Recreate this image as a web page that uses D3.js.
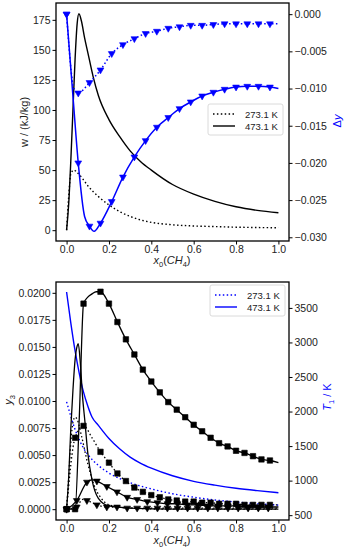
<!DOCTYPE html>
<html>
<head>
<meta charset="utf-8">
<script src="https://cdn.jsdelivr.net/npm/d3@7"></script>
<style>
body { margin: 0; background: #fff; }
svg text { font-family: "Liberation Sans", Arial, sans-serif; }
</style>
</head>
<body>
<div id="chart"></div>
<script>
// ---- data ----
const xTicks = [0, 0.2, 0.4, 0.6, 0.8, 1.0];
const wTicks = [0, 25, 50, 75, 100, 125, 150, 175];
const dyTicks = [0, -0.005, -0.010, -0.015, -0.020, -0.025, -0.030];
const y3Ticks = [0, 0.0025, 0.005, 0.0075, 0.01, 0.0125, 0.015, 0.0175, 0.02];
const tTicks = [500, 1000, 1500, 2000, 2500, 3000, 3500];
const legendLabels = ['273.1 K', '473.1 K'];

// top panel: w (left axis), black
const w273 = [[0,0],[0.01,28],[0.02,47],[0.035,50],[0.05,48],[0.075,43],[0.1,37],[0.15,28],[0.2,21],
  [0.25,15.5],[0.3,11.5],[0.35,8.5],[0.4,6.5],[0.5,4.5],[0.6,3.5],[0.7,3],[0.8,2.5],[0.9,2.2],[1.0,2]];
const w473 = [[0,0],[0.01,22],[0.02,58],[0.03,100],[0.04,142],[0.05,172],[0.058,180],[0.07,174],[0.085,160],
  [0.1,148],[0.125,128],[0.15,112],[0.2,92],[0.25,78],[0.3,66],[0.35,57],[0.4,50],[0.5,38],[0.6,30],
  [0.7,24],[0.8,19.5],[0.9,16.5],[1.0,14.5]];

// top panel: delta y (right axis), blue, triangle marks + extra bends of the line
const dy273 = [[0,0],[0.055,-0.0106],[0.108,-0.0092],[0.16,-0.0075],[0.213,-0.0053],[0.266,-0.0041],
  [0.32,-0.0033],[0.373,-0.0026],[0.426,-0.0023],[0.48,-0.0019],[0.533,-0.0017],[0.586,-0.0015],
  [0.64,-0.0015],[0.693,-0.0014],[0.746,-0.0013],[0.8,-0.0013],[0.853,-0.0013],[0.906,-0.0013],[0.96,-0.0013]];
const dy273Bends = [[0.035,-0.0100],[1.0,-0.0013]];
const dy473 = [[0,0],[0.055,-0.0200],[0.108,-0.0285],[0.16,-0.0281],[0.213,-0.0252],[0.266,-0.0219],
  [0.32,-0.0192],[0.373,-0.0170],[0.426,-0.0152],[0.48,-0.0139],[0.533,-0.0127],[0.586,-0.0118],
  [0.64,-0.0110],[0.693,-0.0105],[0.746,-0.0101],[0.8,-0.0098],[0.853,-0.0097],[0.906,-0.0097],[0.96,-0.0098]];
const dy473Bends = [[0.03,-0.0110],[0.085,-0.0272],[0.13,-0.0292],[1.0,-0.0100]];

// bottom panel: y3 (left axis), black
const sqSolid = [[0,0],[0.04,0],[0.08,0.0190],[0.16,0.0201],[0.2,0.0190],[0.24,0.0173],[0.28,0.0157],
  [0.32,0.0143],[0.36,0.0129],[0.4,0.0118],[0.44,0.0108],[0.48,0.0099],[0.52,0.0092],[0.56,0.0085],
  [0.6,0.0078],[0.64,0.0072],[0.68,0.0066],[0.72,0.0061],[0.76,0.0058],[0.8,0.0054],[0.84,0.0052],
  [0.88,0.0049],[0.92,0.0046],[0.96,0.0045]];
const sqSolidBends = [[0.06,0.0085],[0.1,0.0196],[0.12,0.0199],[0.14,0.0201],[1.0,0.0043]];
const sqDot = [[0,0],[0.04,0.0066],[0.08,0.0077],[0.16,0.0053],[0.2,0.0043],[0.24,0.0033],[0.28,0.0026],
  [0.32,0.0020],[0.36,0.0016],[0.4,0.0013],[0.44,0.0011],[0.48,0.0009],[0.52,0.0008],[0.56,0.0007],
  [0.6,0.0007],[0.64,0.0006],[0.68,0.0006],[0.72,0.0005],[0.76,0.0005],[0.8,0.0005],[0.84,0.0004],
  [0.88,0.0004],[0.92,0.0004],[0.96,0.0004]];
const sqDotBends = [[0.12,0.0066],[1.0,0.0004]];
const triSolid = [[0,0],[0.048,0.0008],[0.096,0.0025],[0.143,0.0026],[0.19,0.0021],[0.238,0.0016],
  [0.286,0.0011],[0.333,0.0009],[0.381,0.0007],[0.429,0.0006],[0.476,0.0005],[0.524,0.0005],[0.571,0.0004],
  [0.619,0.0004],[0.667,0.0003],[0.714,0.0003],[0.762,0.0003],[0.81,0.0003],[0.857,0.0002],[0.905,0.0002],[0.952,0.0002]];
const triSolidBends = [[0.12,0.0027],[1.0,0.0002]];
const triDot = [[0,0],[0.048,0.0002],[0.096,0.0008],[0.143,0.0004],[0.19,0.0002],[0.238,0.0002],
  [0.286,0.0001],[0.333,0.0001],[0.381,0.0001],[0.429,0.0001],[0.476,0.0001],[0.524,0.0001],[0.571,0.0001],
  [0.619,0.0001],[0.667,0.0001],[0.714,0.0001],[0.762,0.0001],[0.81,0.0001],[0.857,0.0001],[0.905,0.0001],[0.952,0.0001]];
const triDotBends = [[0.075,0.0009],[1.0,0.0001]];
const peakSolid = [[0,0],[0.01,0.003],[0.02,0.0075],[0.03,0.011],[0.04,0.0138],[0.05,0.0151],[0.055,0.0153],
  [0.065,0.0135],[0.075,0.0105],[0.087,0.008],[0.1,0.0052],[0.12,0.0027],[0.15,0.001],[0.2,0.0003],
  [0.3,0.0001],[0.5,0],[1.0,0]];
const peakDot = [[0,0],[0.01,0.003],[0.02,0.0062],[0.03,0.008],[0.04,0.0085],[0.05,0.0083],[0.07,0.0068],
  [0.1,0.0042],[0.13,0.0022],[0.16,0.0011],[0.2,0.0004],[0.3,0.0001],[0.5,0],[1.0,0]];

// bottom panel: T1 (right axis), blue
const t273 = [[0,2140],[0.02,1930],[0.04,1740],[0.06,1590],[0.08,1470],[0.1,1380],[0.15,1220],[0.2,1110],
  [0.3,970],[0.4,880],[0.5,810],[0.6,760],[0.7,720],[0.8,690],[0.9,665],[1.0,645]];
const t473 = [[0,3730],[0.02,3280],[0.04,2880],[0.06,2550],[0.08,2280],[0.1,2080],[0.12,1920],[0.15,1800],
  [0.2,1610],[0.25,1460],[0.3,1340],[0.35,1250],[0.4,1180],[0.5,1070],[0.6,990],[0.7,935],[0.8,890],
  [0.9,855],[1.0,825]];

// ---- drawing ----
const W = 346, H = 550;
const blue = '#0000ff';
const root = d3.select('#chart').append('svg')
  .attr('width', W).attr('height', H);

const dotted = '1.5,2.4';
const withBends = (a, b) => a.concat(b).sort((p, q) => p[0] - q[0]);
const fmtMinus = f => v => f(v).replace('-', '\u2212');

function panel(box, leftDomain, rightDomain, opt) {
  const x = d3.scaleLinear().domain([-0.05, 1.05]).range([box.left, box.right]);
  const yL = d3.scaleLinear().domain(leftDomain).range([box.bottom, box.top]);
  const yR = d3.scaleLinear().domain(rightDomain).range([box.bottom, box.top]);
  const g = root.append('g');

  const clipId = 'clip' + Math.round(box.top);
  g.append('clipPath').attr('id', clipId).append('rect')
    .attr('x', box.left).attr('y', box.top)
    .attr('width', box.right - box.left).attr('height', box.bottom - box.top);
  const plot = g.append('g').attr('clip-path', `url(#${clipId})`);

  const ax = (sel) => { sel.select('.domain').remove(); sel.selectAll('text').style('font-size', '10.5px').attr('fill', '#222'); };
  g.append('g').attr('transform', `translate(0,${box.bottom})`)
    .call(d3.axisBottom(x).tickValues(xTicks).tickSize(3.5).tickPadding(1.5).tickFormat(d3.format('.1f')))
    .call(ax);
  g.append('g').attr('transform', `translate(${box.left},0)`)
    .call(d3.axisLeft(yL).tickValues(opt.leftTicks).tickSize(3.5).tickPadding(2).tickFormat(opt.leftFmt))
    .call(ax);
  g.append('g').attr('transform', `translate(${box.right},0)`)
    .call(d3.axisRight(yR).tickValues(opt.rightTicks).tickSize(3.5).tickPadding(2).tickFormat(opt.rightFmt))
    .call(ax);

  g.append('rect').attr('x', box.left).attr('y', box.top)
    .attr('width', box.right - box.left).attr('height', box.bottom - box.top)
    .attr('fill', 'none').attr('stroke', '#000').attr('stroke-width', 1.3);

  return {x, yL, yR, plot, g};
}

function drawLine(p, y, data, color, width, dash) {
  const line = d3.line().x(d => p.x(d[0])).y(d => y(d[1])).curve(d3.curveMonotoneX);
  p.plot.append('path').datum(data).attr('d', line)
    .attr('fill', 'none').attr('stroke', color).attr('stroke-width', width)
    .attr('stroke-dasharray', dash || null);
}

function drawMarks(p, y, data, color, type) {
  const sym = type === 'tri'
    ? d3.symbol().type(d3.symbolTriangle).size(20)
    : d3.symbol().type(d3.symbolSquare).size(30);
  p.plot.selectAll(null).data(data).enter().append('path')
    .attr('d', sym)
    .attr('transform', d => `translate(${p.x(d[0])},${y(d[1])})` + (type === 'tri' ? ' rotate(180)' : ''))
    .attr('fill', color).attr('stroke', color).attr('stroke-width', 0.6);
}

function xLabel(yPos) {
  const t = root.append('text').attr('x', 172).attr('y', yPos).attr('text-anchor', 'middle')
    .style('font-size', '11px').attr('fill', '#222');
  t.append('tspan').style('font-style', 'italic').text('x');
  t.append('tspan').attr('dy', 2.5).style('font-size', '7.5px').text('0');
  t.append('tspan').attr('dy', -2.5).text('(');
  t.append('tspan').style('font-style', 'italic').text('CH');
  t.append('tspan').attr('dy', 2.5).style('font-size', '7.5px').text('4');
  t.append('tspan').attr('dy', -2.5).text(')');
}

function legend(lx, ly, color, lineW) {
  const lg = root.append('g').attr('transform', `translate(${lx},${ly})`);
  lg.append('rect').attr('width', 75).attr('height', 31).attr('rx', 2)
    .attr('fill', '#fff').attr('fill-opacity', 0.85).attr('stroke', '#d0d0d0').attr('stroke-width', 0.8);
  legendLabels.forEach((lab, i) => {
    const yy = 10 + i * 12;
    lg.append('line').attr('x1', 5).attr('x2', 27).attr('y1', yy).attr('y2', yy)
      .attr('stroke', color).attr('stroke-width', lineW)
      .attr('stroke-dasharray', i === 0 ? dotted : null);
    lg.append('text').attr('x', 37).attr('y', yy + 3.5).style('font-size', '9.5px').attr('fill', '#222').text(lab);
  });
}

// top panel
const upper = panel({left: 56, right: 289, top: 3, bottom: 241}, [-9, 189], [-0.0305, 0.0015], {
  leftTicks: wTicks, leftFmt: d3.format('d'),
  rightTicks: dyTicks, rightFmt: fmtMinus(d3.format('.3f'))
});
drawLine(upper, upper.yL, w273, '#000', 1.4, dotted);
drawLine(upper, upper.yL, w473, '#000', 1.4);
drawLine(upper, upper.yR, withBends(dy273, dy273Bends), blue, 1.5, dotted);
drawMarks(upper, upper.yR, dy273, blue, 'tri');
drawLine(upper, upper.yR, withBends(dy473, dy473Bends), blue, 1.5);
drawMarks(upper, upper.yR, dy473, blue, 'tri');
legend(208, 104, '#000', 1.4);

root.append('text').attr('transform', 'translate(28,122) rotate(-90)').attr('text-anchor', 'middle')
  .style('font-size', '11px').attr('fill', '#222').text('w / (kJ/kg)');
const dyLab = root.append('text').attr('transform', 'translate(341,121) rotate(-90)').attr('text-anchor', 'middle')
  .style('font-size', '11px').attr('fill', blue);
dyLab.append('tspan').text('\u0394');
dyLab.append('tspan').style('font-style', 'italic').text('y');
xLabel(264);

// bottom panel
const lower = panel({left: 56, right: 289, top: 282, bottom: 520}, [-0.001, 0.021], [430, 3875], {
  leftTicks: y3Ticks, leftFmt: d3.format('.4f'),
  rightTicks: tTicks, rightFmt: d3.format('d')
});
drawLine(lower, lower.yR, t273, blue, 1.4, dotted);
drawLine(lower, lower.yR, t473, blue, 1.4);
drawLine(lower, lower.yL, peakDot, '#000', 1.3, dotted);
drawLine(lower, lower.yL, peakSolid, '#000', 1.3);
drawLine(lower, lower.yL, withBends(sqDot, sqDotBends), '#000', 1.3, dotted);
drawMarks(lower, lower.yL, sqDot, '#000', 'sq');
drawLine(lower, lower.yL, withBends(sqSolid, sqSolidBends), '#000', 1.3);
drawMarks(lower, lower.yL, sqSolid, '#000', 'sq');
drawLine(lower, lower.yL, withBends(triDot, triDotBends), '#000', 1.3, dotted);
drawMarks(lower, lower.yL, triDot, '#000', 'tri');
drawLine(lower, lower.yL, withBends(triSolid, triSolidBends), '#000', 1.3);
drawMarks(lower, lower.yL, triSolid, '#000', 'tri');
legend(210, 285, blue, 1.4);

const y3Lab = root.append('text').attr('transform', 'translate(12,400) rotate(-90)').attr('text-anchor', 'middle')
  .style('font-size', '11px').attr('fill', '#222');
y3Lab.append('tspan').style('font-style', 'italic').text('y');
y3Lab.append('tspan').attr('dy', 2.5).style('font-size', '7.5px').text('3');
const tLab = root.append('text').attr('transform', 'translate(331,397) rotate(-90)').attr('text-anchor', 'middle')
  .style('font-size', '11px').attr('fill', blue);
tLab.append('tspan').style('font-style', 'italic').text('T');
tLab.append('tspan').attr('dy', 2.5).style('font-size', '7.5px').text('1');
tLab.append('tspan').attr('dy', -2.5).text(' / K');
xLabel(544);
</script>
</body>
</html>
